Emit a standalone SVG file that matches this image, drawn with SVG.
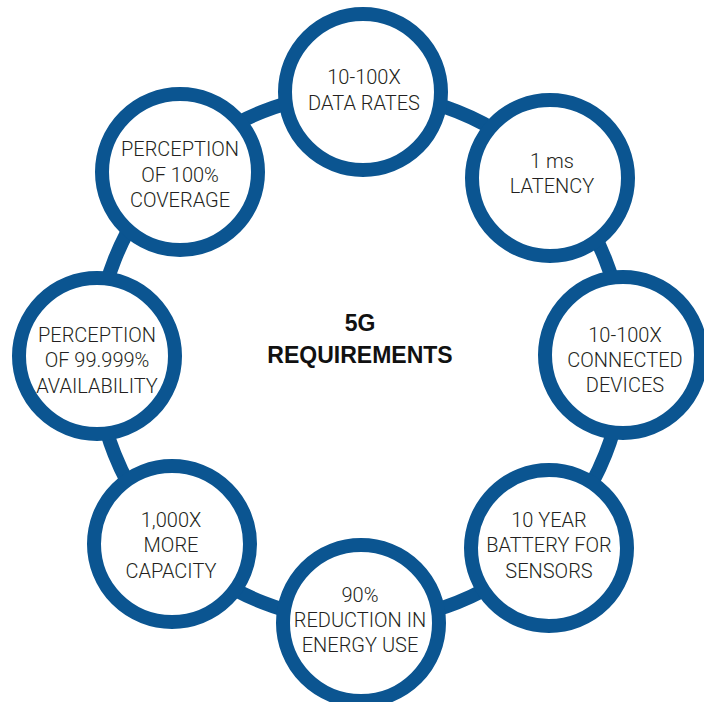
<svg xmlns="http://www.w3.org/2000/svg" width="704" height="702" viewBox="0 0 704 702">
<style>
.ring{fill:none;stroke:#0b5591;stroke-width:14}
.node{fill:#ffffff;stroke:#0b5591;stroke-width:14}
.lbl{font-family:Roboto,"Liberation Sans",sans-serif;font-weight:300;font-size:20px;fill:#231f20;text-anchor:middle}
.title{font-family:"Liberation Sans",Arial,sans-serif;font-weight:bold;font-size:23px;fill:#111111;text-anchor:middle}
</style>
<rect width="704" height="702" fill="#ffffff"/>
<g id="connectors">
<circle class="ring" cx="360" cy="357" r="264"/>
</g>
<g id="center-title">
<text class="title" x="360" y="331">5G</text>
<text class="title" x="360" y="363">REQUIREMENTS</text>
</g>
<g id="node-data-rates">
<circle class="node" cx="363" cy="92" r="78"/>
<text class="lbl" x="364" y="84">10-100X</text>
<text class="lbl" x="364" y="110">DATA RATES</text>
</g>
<g id="node-latency">
<circle class="node" cx="550" cy="178" r="78"/>
<text class="lbl" x="552" y="168">1 ms</text>
<text class="lbl" x="552" y="193">LATENCY</text>
</g>
<g id="node-connected-devices">
<circle class="node" cx="623" cy="355" r="78"/>
<text class="lbl" x="625" y="342">10-100X</text>
<text class="lbl" x="625" y="367">CONNECTED</text>
<text class="lbl" x="625" y="392">DEVICES</text>
</g>
<g id="node-battery">
<circle class="node" cx="549" cy="548" r="78"/>
<text class="lbl" x="549" y="527">10 YEAR</text>
<text class="lbl" x="549" y="552">BATTERY FOR</text>
<text class="lbl" x="549" y="578">SENSORS</text>
</g>
<g id="node-energy">
<circle class="node" cx="361" cy="623" r="78"/>
<text class="lbl" x="360" y="602">90%</text>
<text class="lbl" x="360" y="627">REDUCTION IN</text>
<text class="lbl" x="360" y="652">ENERGY USE</text>
</g>
<g id="node-capacity">
<circle class="node" cx="172" cy="544" r="78"/>
<text class="lbl" x="171" y="527">1,000X</text>
<text class="lbl" x="171" y="552">MORE</text>
<text class="lbl" x="171" y="578">CAPACITY</text>
</g>
<g id="node-availability">
<circle class="node" cx="97" cy="356" r="78"/>
<text class="lbl" x="97" y="342">PERCEPTION</text>
<text class="lbl" x="97" y="367">OF 99.999%</text>
<text class="lbl" x="97" y="393">AVAILABILITY</text>
</g>
<g id="node-coverage">
<circle class="node" cx="180" cy="172" r="78"/>
<text class="lbl" x="180" y="156">PERCEPTION</text>
<text class="lbl" x="180" y="182">OF 100%</text>
<text class="lbl" x="180" y="207">COVERAGE</text>
</g>
</svg>
